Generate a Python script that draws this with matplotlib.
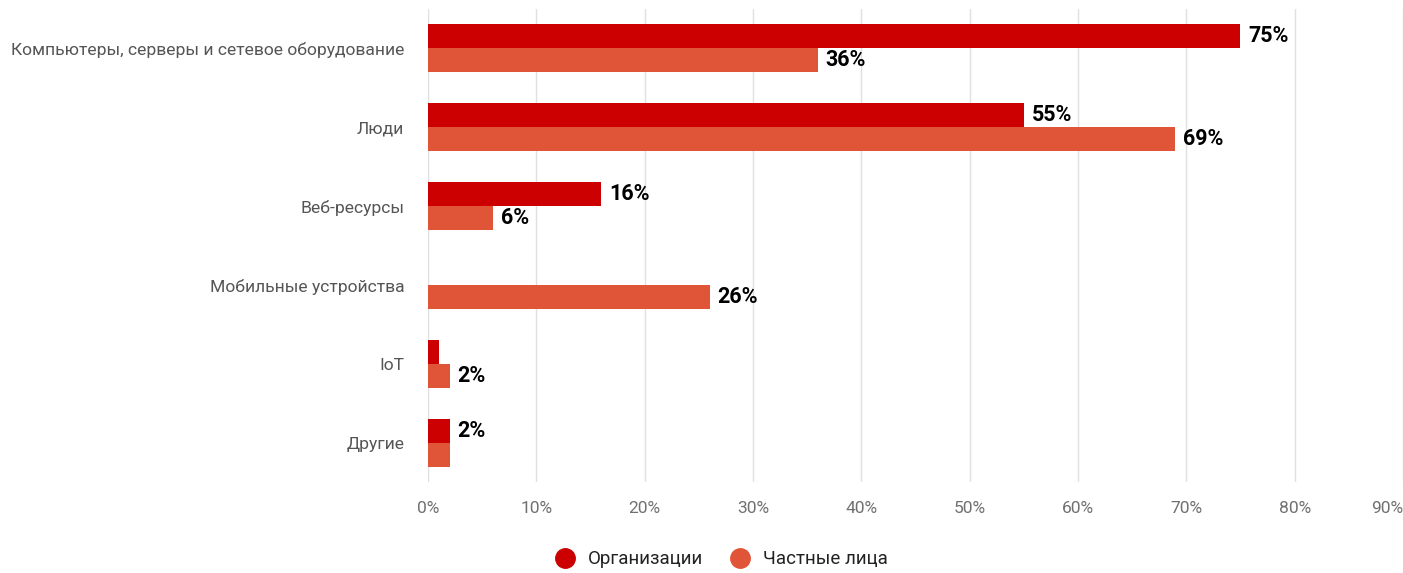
import matplotlib
matplotlib.use("Agg")
import matplotlib.pyplot as plt
import numpy as np

categories = [
    "Компьютеры, серверы и сетевое оборудование",
    "Люди",
    "Веб-ресурсы",
    "Мобильные устройства",
    "IoT",
    "Другие",
]
series_names = ["Организации", "Частные лица"]
org_values = [75, 55, 16, 0, 1, 2]
ind_values = [36, 69, 6, 26, 2, 2]
# which bars carry a value label
org_labeled = [True, True, True, False, False, True]
ind_labeled = [True, True, True, True, True, False]
x_ticks = [0, 10, 20, 30, 40, 50, 60, 70, 80, 90]

org_color = "#CC0000"
ind_color = "#E05538"

plt.rcParams["font.family"] = ["Roboto", "DejaVu Sans"]

fig = plt.figure(figsize=(14.03, 5.73), dpi=100)
ax = fig.add_axes([0.305, 0.158, 0.695, 0.827])

y = np.arange(len(categories))
h = 0.30
ax.barh(y - h / 2, org_values, height=h, color=org_color, label=series_names[0], zorder=3)
ax.barh(y + h / 2, ind_values, height=h, color=ind_color, label=series_names[1], zorder=3)

for yi, v, lab in zip(y, org_values, org_labeled):
    if lab:
        ax.text(v + 0.7, yi - h / 2, f"{v}%", va="center", ha="left",
                fontsize=15.5, fontweight="bold", color="black", zorder=4)
for yi, v, lab in zip(y, ind_values, ind_labeled):
    if lab:
        ax.text(v + 0.7, yi + h / 2, f"{v}%", va="center", ha="left",
                fontsize=15.5, fontweight="bold", color="black", zorder=4)

ax.set_ylim(len(categories) - 0.5, -0.5)
ax.set_xlim(0, 90)
ax.set_yticks(y)
ax.set_yticklabels(categories, fontsize=12.6, color="#555555")
ax.set_xticks(x_ticks)
xlabels = ax.set_xticklabels([f"{t}%" for t in x_ticks], fontsize=12.5, color="#707070")
xlabels[-1].set_horizontalalignment("right")
ax.tick_params(axis="both", length=0)
ax.tick_params(axis="y", pad=17)
ax.tick_params(axis="x", pad=13)
ax.grid(axis="x", color="#e0e0e0", linewidth=1, zorder=0)
for s in ax.spines.values():
    s.set_visible(False)

handles = [
    plt.Line2D([], [], marker="o", linestyle="", markersize=14, color=org_color),
    plt.Line2D([], [], marker="o", linestyle="", markersize=14, color=ind_color),
]
fig.legend(handles, series_names, loc="center", bbox_to_anchor=(0.511, 0.024),
           ncol=2, frameon=False, fontsize=13.5, handletextpad=0.2, columnspacing=1.0,
           labelcolor="#222222")

fig.savefig("out.png", dpi=100, facecolor="white")
